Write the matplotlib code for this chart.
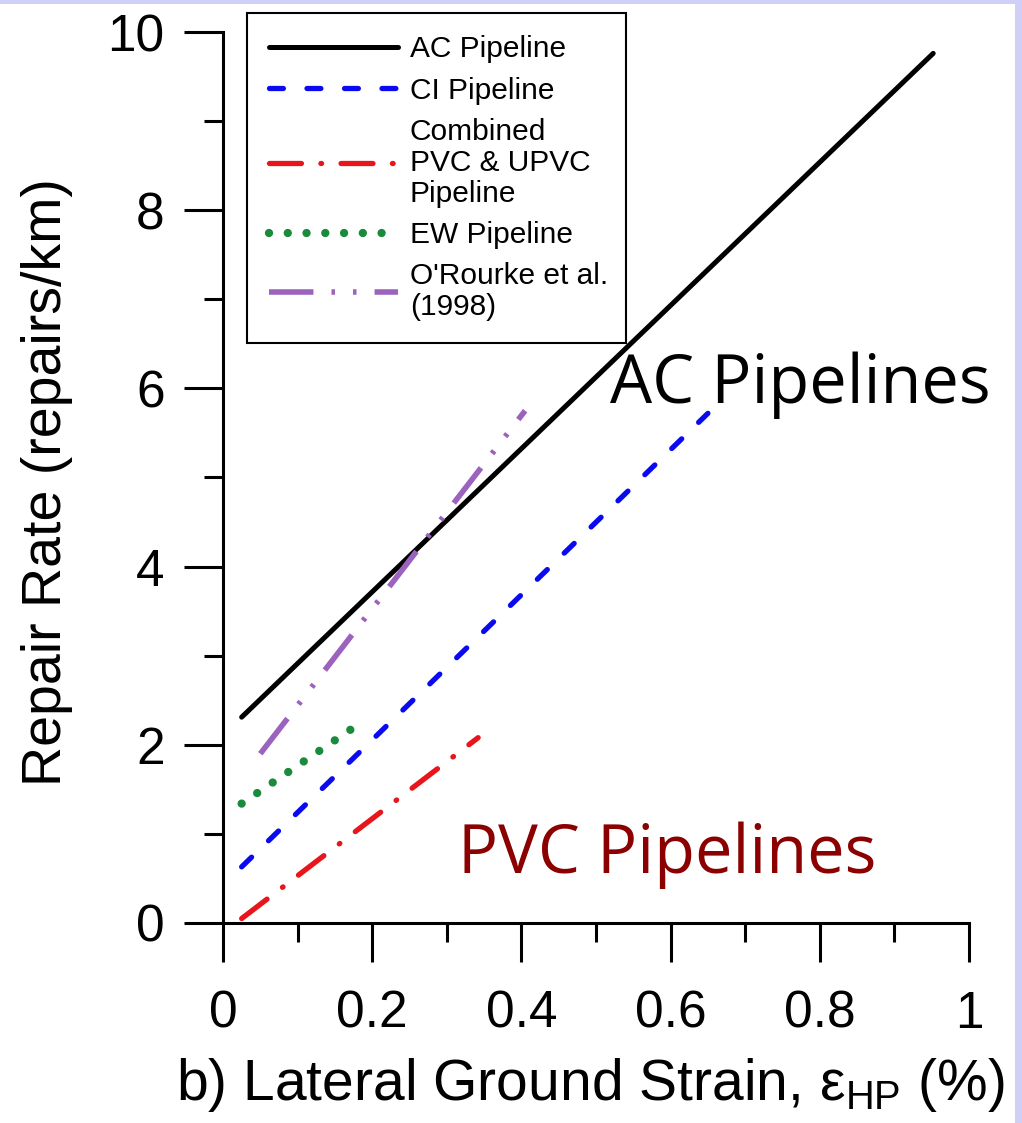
import matplotlib
matplotlib.use('Agg')
import matplotlib.pyplot as plt
from matplotlib.ticker import MultipleLocator
from matplotlib.patches import Rectangle

# end points of the fitted repair-rate lines (strain %, repairs/km)
ac_x = [0.025, 0.952]
ac_y = [2.31, 9.76]
ci_x = [0.025, 0.650]
ci_y = [0.63, 5.72]
pvc_x = [0.025, 0.342]
pvc_y = [0.05, 2.08]
ew_x = [0.025, 0.178]
ew_y = [1.34, 2.21]
orourke_x = [0.05, 0.405]
orourke_y = [1.90, 5.75]

labels = ['AC Pipeline', 'CI Pipeline', 'Combined\nPVC & UPVC\nPipeline',
          'EW Pipeline', "O'Rourke et al.\n(1998)"]
x_ticks = [0, 0.2, 0.4, 0.6, 0.8, 1]
x_ticklabels = ['0', '0.2', '0.4', '0.6', '0.8', '1']
y_ticks = [0, 2, 4, 6, 8, 10]

plt.rcParams['font.family'] = ['Liberation Sans', 'DejaVu Sans']
plt.rcParams['mathtext.fontset'] = 'custom'
plt.rcParams['mathtext.rm'] = 'Liberation Sans'
plt.rcParams['mathtext.it'] = 'Liberation Sans:italic'
plt.rcParams['lines.scale_dashes'] = False

W, H = 1022, 1123
fig = plt.figure(figsize=(W / 100, H / 100), dpi=100)
fig.patch.set_facecolor('white')

# axes box in pixels: x 223..969, y 32..923
ax = fig.add_axes([223 / W, 1 - 923 / H, (969 - 223) / W, (923 - 32) / H])

l1, = ax.plot(ac_x, ac_y, color='black', lw=3.6, solid_capstyle='round')
l2, = ax.plot(ci_x, ci_y, color='#0a0af0', lw=3.8, dash_capstyle='round',
              dashes=(10, 17))
l3, = ax.plot(pvc_x, pvc_y, color='#e8161c', lw=3.8, dash_capstyle='round',
              dashes=(23, 14, 0.5, 14))
l4, = ax.plot(ew_x, ew_y, color='#1a8a3c', lw=6.0, dash_capstyle='round',
              dashes=(0.01, 13.5))
l5, = ax.plot(orourke_x, orourke_y, color='#9b63bd', lw=4.0, dash_capstyle='butt',
              dashes=(32, 13, 2.5, 13, 2.5, 13))

ax.set_xlim(0, 1)
ax.set_ylim(0, 10)
ax.set_xticks(x_ticks)
ax.set_xticklabels(x_ticklabels)
ax.set_yticks(y_ticks)
ax.xaxis.set_minor_locator(MultipleLocator(0.1))
ax.yaxis.set_minor_locator(MultipleLocator(1))

for side in ['top', 'right']:
    ax.spines[side].set_visible(False)
for side in ['left', 'bottom']:
    ax.spines[side].set_linewidth(2.2)

ax.tick_params(which='major', direction='out', length=28, width=2.2, labelsize=37)
ax.tick_params(which='minor', direction='out', length=14, width=2.2)
ax.tick_params(axis='y', which='major', pad=14)
ax.tick_params(axis='x', which='major', pad=20)

fig.text(47 / W, 1 - 482 / H, 'Repair Rate (repairs/km)', rotation=90,
         ha='center', va='center', fontsize=40)
fig.text(590 / W, 1 - 1100 / H,
         r'b) Lateral Ground Strain, $\mathrm{\varepsilon}_{\mathrm{HP}}$ (%)',
         ha='center', va='baseline', fontsize=41)

ax.text(0.519, 5.84, 'AC Pipelines', fontsize=48, family='Open Sans',
        color='black', ha='left', va='baseline', clip_on=False)
ax.text(0.315, 0.56, 'PVC Pipelines', fontsize=48, family='Open Sans',
        color='#8b0000', ha='left', va='baseline')

leg = fig.legend([l1, l2, l3, l4, l5], labels, loc='upper left',
                 bbox_to_anchor=(247 / W, 1 - 335 / H, (626 - 247) / W, (335 - 13) / H),
                 mode='expand', borderaxespad=0, fontsize=21.5,
                 handlelength=4.3, handletextpad=0.4, labelspacing=0.45,
                 borderpad=0.75, fancybox=False, framealpha=1)
leg.get_frame().set_edgecolor('black')
leg.get_frame().set_linewidth(1.5)
for t in leg.get_texts():
    t.set_linespacing(1.12)

# lavender frame along the top and right edges
fig.patches.append(Rectangle((0, 1 - 4 / H), 1, 4 / H, transform=fig.transFigure,
                             facecolor='#cfcff7', edgecolor='none', zorder=0))
fig.patches.append(Rectangle((1 - 7 / W, 0), 7 / W, 1, transform=fig.transFigure,
                             facecolor='#cfcff7', edgecolor='none', zorder=0))

fig.savefig('out.png', dpi=100)
